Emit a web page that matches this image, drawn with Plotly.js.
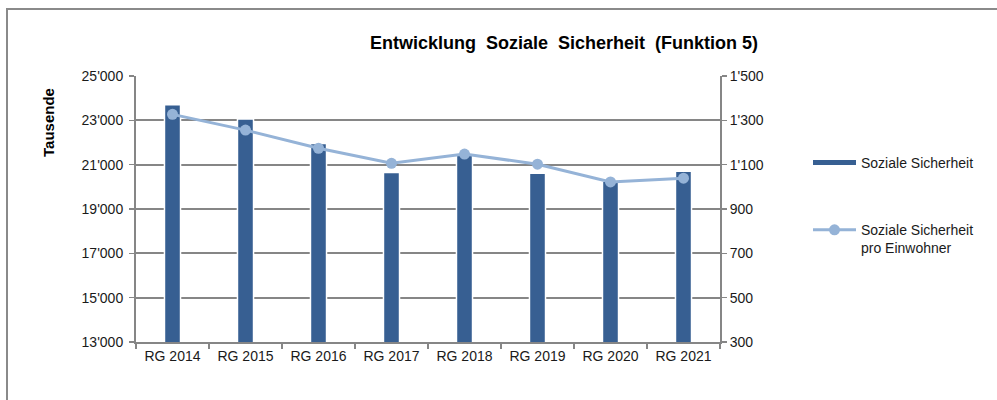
<!DOCTYPE html>
<html>
<head>
<meta charset="utf-8">
<script src="https://cdn.plot.ly/plotly-3.0.1.min.js"></script>
<style>
  html, body { margin: 0; padding: 0; background: #fff; }
  #wrap { position: relative; width: 997px; height: 400px; overflow: hidden; }
  #chart { position: absolute; left: 0; top: 0; width: 997px; height: 400px; }
  #frame { position: absolute; left: 6px; top: 8px; width: 1000px; height: 400px;
           border-top: 2px solid #8a8a8a; border-left: 2px solid #8a8a8a; pointer-events: none; }
</style>
</head>
<body>
<div id="wrap">
  <div id="chart"></div>
  <div id="frame"></div>
</div>
<script>
const categories = ['RG 2014', 'RG 2015', 'RG 2016', 'RG 2017', 'RG 2018', 'RG 2019', 'RG 2020', 'RG 2021'];
const sozialeSicherheit = [23700, 23060, 21950, 20650, 21450, 20610, 20250, 20700];
const proEinwohner = [1327, 1256, 1174, 1106, 1148, 1102, 1022, 1039];
const leftTicks = [13000, 15000, 17000, 19000, 21000, 23000, 25000];
const rightTicks = [300, 500, 700, 900, 1100, 1300, 1500];

const barColor = '#375f92';
const lineColor = '#95b3d7';
const gridColor = '#868686';
const font = 'Liberation Sans, Arial, sans-serif';

const traces = [
  {
    type: 'bar', x: categories, y: sozialeSicherheit, name: 'Soziale Sicherheit',
    marker: { color: barColor, line: { color: '#ffffff', width: 1.5 } },
    width: 0.22, showlegend: false, hoverinfo: 'x+y'
  },
  {
    type: 'scatter', mode: 'lines', x: [null], y: [null], name: 'Soziale Sicherheit',
    line: { color: barColor, width: 5 }, legendgroup: 'a', showlegend: true
  },
  {
    type: 'scatter', mode: 'lines+markers', x: categories, y: proEinwohner, yaxis: 'y2',
    name: 'Soziale Sicherheit<br>pro Einwohner', legendgroup: 'b',
    line: { color: lineColor, width: 3 },
    marker: { color: lineColor, size: 11 }
  }
];

const layout = {
  width: 997, height: 400,
  paper_bgcolor: 'rgba(0,0,0,0)', plot_bgcolor: 'rgba(0,0,0,0)',
  margin: { l: 136, r: 277, t: 76, b: 58 },
  separators: ".'",
  font: { family: font, size: 14, color: '#1a1a1a' },
  title: {
    text: 'Entwicklung\u00a0 Soziale\u00a0 Sicherheit\u00a0 (Funktion 5)',
    font: { family: font, size: 18, color: '#000', weight: 'bold' },
    xref: 'container', x: 564 / 997, xanchor: 'center',
    yref: 'container', y: 1 - 43 / 400, yanchor: 'middle'
  },
  xaxis: {
    type: 'category', tickson: 'boundaries', ticks: 'outside', ticklen: 5, tickwidth: 1.5,
    tickcolor: gridColor, showline: true, linecolor: gridColor, linewidth: 2,
    showgrid: false, tickfont: { size: 14, color: '#1a1a1a' }
  },
  yaxis: {
    range: [13000, 25000], tickvals: leftTicks, tickformat: ',d',
    ticks: 'outside', ticklen: 5, tickwidth: 1.5, tickcolor: gridColor,
    showline: true, linecolor: gridColor, linewidth: 2,
    showgrid: true, gridcolor: gridColor, gridwidth: 1.8, zeroline: false,
    tickfont: { size: 14, color: '#1a1a1a' }, ticklabelstandoff: 3
  },
  yaxis2: {
    overlaying: 'y', side: 'right', range: [300, 1500], tickvals: rightTicks, tickformat: ',d',
    ticks: 'outside', ticklen: 5, tickwidth: 1.5, tickcolor: gridColor,
    showline: true, linecolor: gridColor, linewidth: 2,
    showgrid: false, zeroline: false, tickfont: { size: 14, color: '#1a1a1a' }
  },
  legend: {
    xref: 'container', yref: 'container', x: 808 / 997, xanchor: 'left',
    y: 1 - 147 / 400, yanchor: 'top', valign: 'top', itemwidth: 43,
    tracegroupgap: 46, font: { size: 14, color: '#1a1a1a' }, bgcolor: 'rgba(0,0,0,0)'
  },
  annotations: [{
    text: 'Tausende', xref: 'paper', yref: 'paper', x: (48 - 136) / 584, y: (342 - 123) / 266,
    xanchor: 'center', yanchor: 'middle',
    showarrow: false, textangle: -90, font: { family: font, size: 15, color: '#000', weight: 'bold' }
  }]
};

Plotly.newPlot('chart', traces, layout, { displayModeBar: false, staticPlot: true });
</script>
</body>
</html>
